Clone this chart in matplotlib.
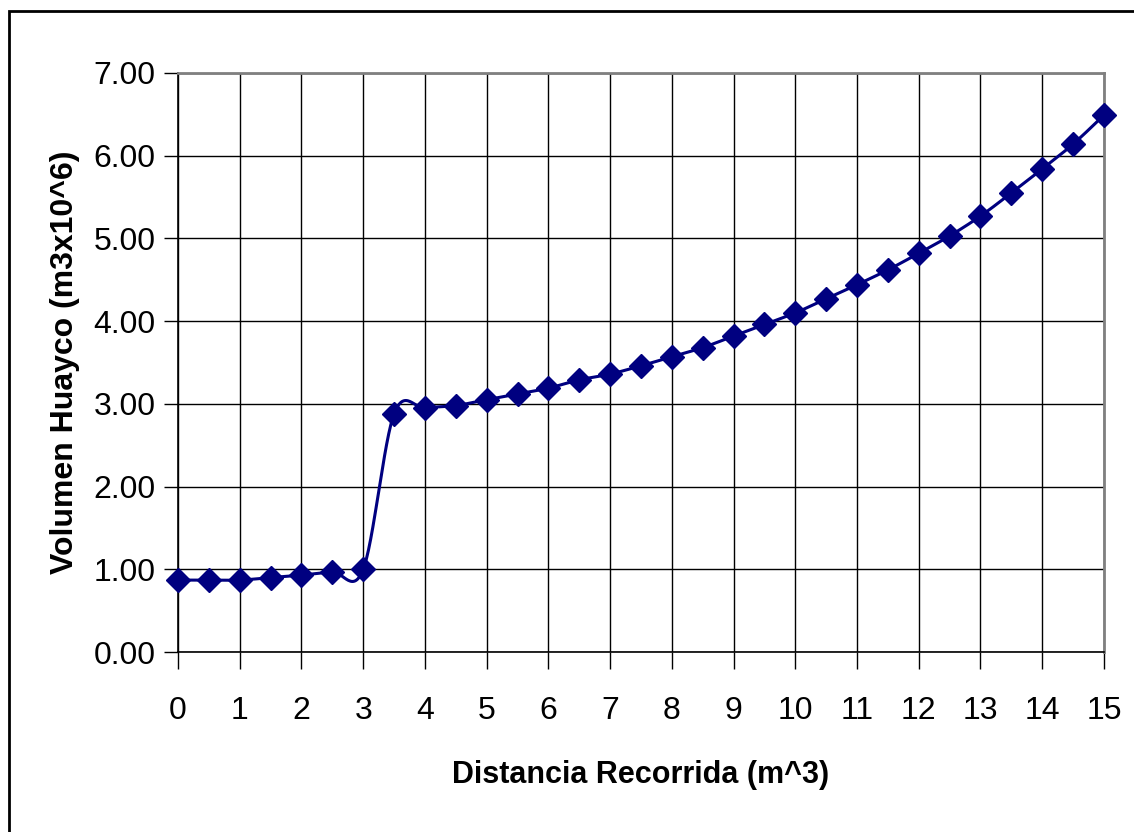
import numpy as np
import matplotlib.pyplot as plt
from matplotlib.patches import Rectangle

# Data
distancia = [0, 0.5, 1, 1.5, 2, 2.5, 3, 3.5, 4, 4.5, 5, 5.5, 6, 6.5, 7, 7.5,
             8, 8.5, 9, 9.5, 10, 10.5, 11, 11.5, 12, 12.5, 13, 13.5, 14, 14.5, 15]
volumen = [0.87, 0.87, 0.87, 0.90, 0.93, 0.97, 1.00, 2.88, 2.95, 2.98, 3.05,
           3.12, 3.19, 3.29, 3.36, 3.46, 3.57, 3.68, 3.82, 3.96, 4.10, 4.27,
           4.44, 4.62, 4.82, 5.03, 5.27, 5.55, 5.84, 6.14, 6.49]
x_ticks = list(range(0, 16))
y_ticks = [0, 1, 2, 3, 4, 5, 6, 7]


def smooth_curve(x, y, n=30):
    # Excel-like smoothed line: cubic Bezier segments, control points from neighbours
    x = np.asarray(x, float)
    y = np.asarray(y, float)
    px = np.concatenate([[x[0]], x, [x[-1]]])
    py = np.concatenate([[y[0]], y, [y[-1]]])
    t = np.linspace(0, 1, n)
    xs, ys = [], []
    for i in range(1, len(px) - 2):
        c1x = px[i] + (px[i + 1] - px[i - 1]) / 6
        c1y = py[i] + (py[i + 1] - py[i - 1]) / 6
        c2x = px[i + 1] - (px[i + 2] - px[i]) / 6
        c2y = py[i + 1] - (py[i + 2] - py[i]) / 6
        b0 = (1 - t) ** 3
        b1 = 3 * (1 - t) ** 2 * t
        b2 = 3 * (1 - t) * t ** 2
        b3 = t ** 3
        xs.append(b0 * px[i] + b1 * c1x + b2 * c2x + b3 * px[i + 1])
        ys.append(b0 * py[i] + b1 * c1y + b2 * c2y + b3 * py[i + 1])
    return np.concatenate(xs), np.concatenate(ys)


plt.rcParams['font.family'] = ['Liberation Sans', 'DejaVu Sans']

fig = plt.figure(figsize=(11.34, 8.32), dpi=100)
ax = fig.add_axes([0.157, 0.2163, 0.8165, 0.696])

sx, sy = smooth_curve(distancia, volumen)
ax.plot(sx, sy, color='#000080', lw=2.2, zorder=3, clip_on=False)
ax.plot(distancia, volumen, linestyle='none', marker='D', markersize=12.5,
        color='#000080', zorder=4, clip_on=False)

ax.set_xlim(0, 15)
ax.set_ylim(0, 7)
ax.set_xticks(x_ticks)
ax.set_yticks(y_ticks)
ax.set_yticklabels([f'{v:.2f}' for v in y_ticks])
ax.grid(True, color='black', lw=1)
ax.set_axisbelow(True)

ax.tick_params(axis='y', direction='out', length=10, width=1, pad=6, labelsize=23)
ax.tick_params(axis='x', direction='out', length=12, width=1, pad=20, labelsize=23)

for side in ['left', 'bottom']:
    ax.spines[side].set_color('black')
    ax.spines[side].set_linewidth(1.2)
for side in ['top', 'right']:
    ax.spines[side].set_color('#808080')
    ax.spines[side].set_linewidth(2)

ax.set_xlabel('Distancia Recorrida (m^3)', fontsize=22, fontweight='bold', labelpad=24)
ax.set_ylabel('Volumen Huayco (m3x10^6)', fontsize=23, fontweight='bold', labelpad=10)

# outer chart border
fig.patches.append(Rectangle((9 / 1134, -0.05), 1.1, 1 - 11 / 832 + 0.05,
                             transform=fig.transFigure, fill=False,
                             edgecolor='black', lw=2))

fig.savefig('out.png', dpi=100)
